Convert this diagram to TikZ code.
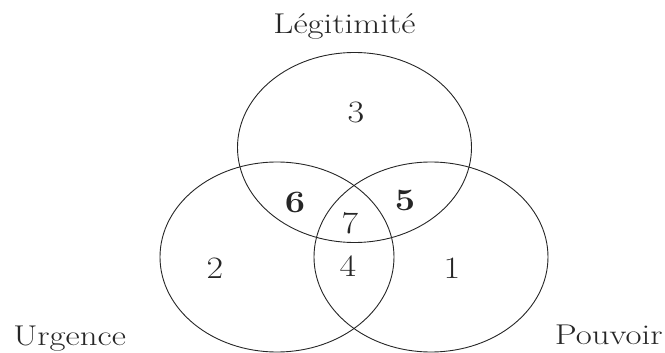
\documentclass[tikz,border=0pt]{standalone}
\usetikzlibrary{shapes.geometric}
\definecolor{ink}{HTML}{262626}
\begin{document}
\begin{tikzpicture}[x=1pt,y=-1pt,
  setcircle/.style={draw=ink, line width=0.9pt, ellipse, minimum width=234pt, minimum height=190pt, inner sep=0pt},
  numlabel/.style={text=ink, inner sep=0pt, font=\Huge, transform shape, xscale=1.45, yscale=1.25},
  setlabel/.style={text=ink, inner sep=0pt, font=\Huge, transform shape, xscale=1.4, yscale=1.15}]
\useasboundingbox (0,0) rectangle (665,353);
\node[setcircle] (leg) at (354.5,147.5) {};
\node[setcircle] (urg) at (277,257) {};
\node[setcircle] (pou) at (431,257) {};
\node[setlabel, anchor=base] (tleg) at (344.5,34) {Légitimité};
\node[setlabel, anchor=base west] (turg) at (13,345) {Urgence};
\node[setlabel, anchor=base east] (tpou) at (663,344) {Pouvoir};
\node[numlabel] (n3) at (356,112) {3};
\node[numlabel, font=\Huge\bfseries] (n6) at (295,202) {6};
\node[numlabel, font=\Huge\bfseries] (n5) at (405,200) {5};
\node[numlabel] (n7) at (350,223) {7};
\node[numlabel] (n4) at (348,266) {4};
\node[numlabel] (n2) at (215,268) {2};
\node[numlabel] (n1) at (452,268) {1};
\end{tikzpicture}
\end{document}
